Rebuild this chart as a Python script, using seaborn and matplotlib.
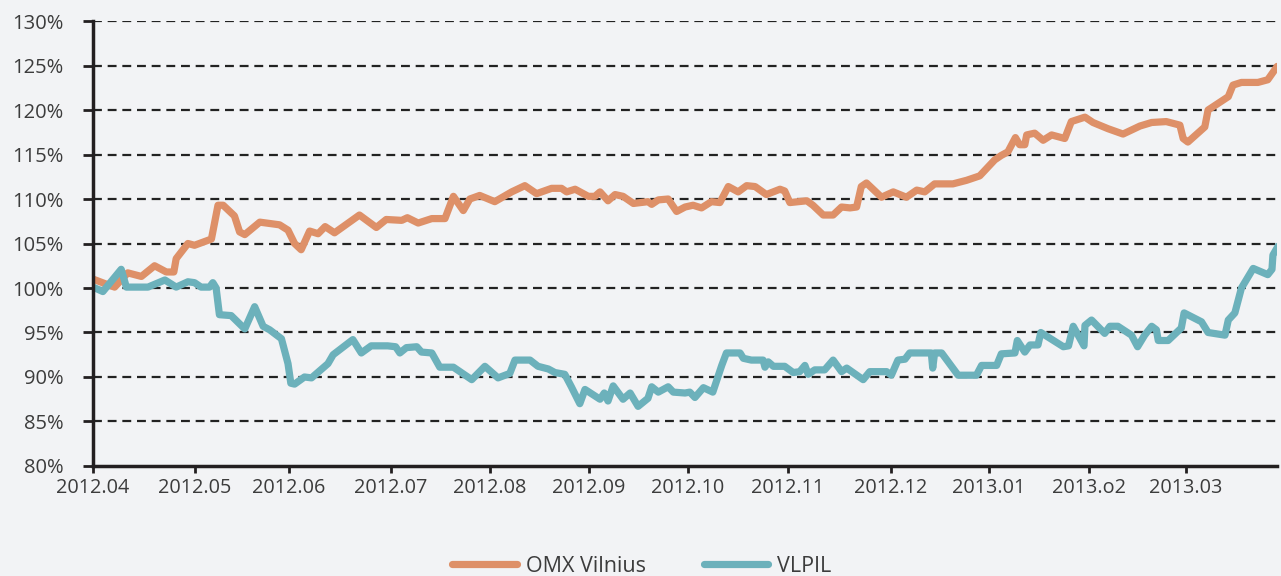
import pandas as pd
import seaborn as sns
import matplotlib.pyplot as plt
from matplotlib.ticker import FuncFormatter

# trading-day index and index level in %
omx_day = [0, 2.5, 4.6, 7.4, 10.3, 13.1, 15.6, 17.2, 17.7, 20.2, 21.6, 25.2, 26.6, 27.7,
           30.1, 31.2, 32.3, 35.5, 39.7, 41.5, 42.9, 44.3, 46.1, 47.9, 49.4, 51.4, 56.7,
           60.3, 62.4, 65.7, 66.9, 69.2, 72.1, 74.9, 76.7, 78.8, 80.2, 82.3, 85.5, 89.1,
           91.9, 94.4, 97.6, 99.7, 100.8, 102.6, 105.4, 106.8, 107.9, 109.6, 111.1, 112.8,
           115.0, 118.1, 118.9, 120.3, 122.4, 124.2, 126.0, 127.7, 129.5, 131.6, 133.4,
           135.2, 137.3, 139.1, 140.9, 143.3, 146.2, 147.2, 148.3, 151.9, 153.2, 155.4,
           157.5, 159.3, 161.1, 162.5, 163.5, 164.6, 167.8, 170.3, 173.1, 175.3, 177.0,
           179.1, 183.0, 185.9, 188.7, 191.9, 193.3, 194.7, 196.3, 197.2, 198.3, 198.7,
           200.4, 202.2, 204.0, 206.8, 208.2, 211.1, 212.8, 216.0, 219.2, 222.8, 225.3,
           228.4, 231.3, 232.0, 233.0, 236.6, 237.3, 241.6, 242.6, 244.4, 247.9, 250.0, 252.0]
omx_val = [101.0, 100.5, 100.1, 101.7, 101.3, 102.5, 101.8, 101.8, 103.3, 105.0, 104.8, 105.5,
           109.3, 109.3, 108.1, 106.3, 106.0, 107.4, 107.1, 106.5, 105.0, 104.3, 106.4, 106.1,
           106.9, 106.2, 108.2, 106.8, 107.7, 107.6, 107.9, 107.3, 107.8, 107.8, 110.3, 108.7,
           110.0, 110.4, 109.7, 110.8, 111.5, 110.6, 111.2, 111.2, 110.8, 111.1, 110.3, 110.3,
           110.8, 109.8, 110.5, 110.3, 109.5, 109.7, 109.4, 109.9, 110.0, 108.6, 109.1, 109.3,
           109.0, 109.7, 109.6, 111.4, 110.8, 111.5, 111.4, 110.5, 111.1, 110.9, 109.6, 109.8,
           109.3, 108.2, 108.2, 109.1, 109.0, 109.1, 111.4, 111.8, 110.2, 110.8, 110.2, 111.0,
           110.8, 111.7, 111.7, 112.1, 112.6, 114.4, 114.9, 115.3, 116.9, 116.1, 116.1, 117.2,
           117.4, 116.6, 117.2, 116.8, 118.7, 119.2, 118.6, 117.9, 117.3, 118.2, 118.6, 118.7,
           118.3, 116.8, 116.4, 118.1, 120.0, 121.5, 122.8, 123.1, 123.1, 123.4, 124.9]

vlpil_day = [0, 2.1, 6.0, 7.1, 11.7, 15.3, 17.7, 20.2, 21.6, 23.0, 24.8, 25.5, 26.2, 26.9,
             29.4, 32.3, 34.4, 36.2, 37.6, 40.1, 41.5, 42.1, 42.9, 45.0, 46.5, 50.0, 51.1,
             55.3, 57.1, 59.2, 62.7, 64.4, 65.3, 66.7, 68.9, 69.9, 72.1, 73.8, 76.7, 80.6,
             83.4, 86.2, 88.7, 89.8, 93.0, 94.7, 96.9, 98.3, 100.4, 101.8, 103.6, 104.7,
             107.9, 108.8, 109.6, 110.7, 112.8, 114.3, 116.0, 118.1, 118.9, 120.3, 122.4,
             123.5, 126.0, 127.0, 128.1, 129.9, 131.9, 133.8, 134.8, 137.7, 138.4, 140.1,
             142.6, 143.0, 143.7, 144.8, 147.2, 149.0, 150.4, 151.5, 152.2, 153.6, 155.7,
             157.5, 159.3, 160.4, 163.9, 165.3, 168.9, 169.9, 171.3, 172.8, 173.8, 178.4,
             178.7, 179.1, 180.6, 184.1, 188.0, 189.1, 192.3, 193.3, 196.2, 196.7, 198.3,
             199.4, 201.1, 201.7, 204.7, 206.5, 207.6, 208.6, 210.9, 211.1, 212.5, 215.3,
             216.4, 218.1, 221.0, 222.3, 223.8, 225.3, 226.3, 226.7, 228.8, 231.6, 232.2,
             235.9, 237.3, 240.9, 241.6, 243.0, 244.4, 246.9, 250.0, 250.9, 251.1, 252.2]
vlpil_val = [100.1, 99.6, 102.1, 100.1, 100.1, 100.9, 100.1, 100.7, 100.6, 100.1, 100.1, 100.6,
             100.0, 97.0, 96.9, 95.4, 97.9, 95.7, 95.3, 94.3, 91.5, 89.3, 89.2, 90.0, 89.9,
             91.5, 92.5, 94.2, 92.7, 93.5, 93.5, 93.4, 92.7, 93.3, 93.4, 92.8, 92.7, 91.1,
             91.1, 89.7, 91.2, 89.9, 90.4, 91.9, 91.9, 91.2, 90.9, 90.5, 90.3, 88.9, 87.0,
             88.6, 87.5, 88.2, 87.3, 89.0, 87.5, 88.2, 86.7, 87.6, 88.9, 88.3, 88.9, 88.3,
             88.2, 88.3, 87.7, 88.8, 88.3, 91.3, 92.7, 92.7, 92.1, 91.9, 91.9, 91.1, 91.7,
             91.2, 91.2, 90.5, 90.6, 91.3, 90.3, 90.8, 90.8, 91.9, 90.6, 91.0, 89.7, 90.6,
             90.6, 90.2, 91.9, 92.0, 92.7, 92.7, 91.0, 92.7, 92.7, 90.2, 90.2, 91.3, 91.3,
             92.6, 92.7, 94.1, 92.8, 93.6, 93.6, 95.0, 94.0, 93.4, 93.5, 95.7, 93.5, 95.8,
             96.4, 94.9, 95.7, 95.7, 94.7, 93.4, 94.7, 95.7, 95.3, 94.1, 94.1, 95.5, 97.2,
             96.2, 95.0, 94.7, 96.4, 97.2, 100.0, 102.2, 101.5, 102.1, 103.7, 104.7]

month_pos = [0, 21.7, 41.7, 63.4, 84.5, 105.5, 126.6, 147.9, 169.8, 190.6, 211.9, 232.6]
month_labels = ["2012.04", "2012.05", "2012.06", "2012.07", "2012.08", "2012.09",
                "2012.10", "2012.11", "2012.12", "2013.01", "2013.o2", "2013.03"]

series = ["OMX Vilnius", "VLPIL"]
colors = ["#de9068", "#6cb1bb"]

df = pd.concat([
    pd.DataFrame({"day": omx_day, "value": omx_val, "series": series[0]}),
    pd.DataFrame({"day": vlpil_day, "value": vlpil_val, "series": series[1]}),
])

bg = "#f2f3f5"
ink = "#3c3c3c"
sns.set_style("ticks")
plt.rcParams["font.family"] = ["Open Sans", "DejaVu Sans"]

fig = plt.figure(figsize=(12.81, 5.76), dpi=100, facecolor=bg)
ax = fig.add_axes([0.0726, 0.191, 0.9244, 0.7725])
ax.set_facecolor(bg)

sns.lineplot(data=df, x="day", y="value", hue="series", palette=colors,
             sort=False, estimator=None, linewidth=5.2, ax=ax, legend=False,
             zorder=3)

ax.set_xlim(0, 252)
ax.set_ylim(80, 130)
ax.set_yticks(range(80, 131, 5))
ax.yaxis.set_major_formatter(FuncFormatter(lambda v, p: f"{v:.0f}%"))
ax.set_xticks(month_pos)
ax.set_xticklabels(month_labels)
ax.set_xlabel("")
ax.set_ylabel("")

# dashed horizontal guides
for v in range(85, 131, 5):
    ax.axhline(v, color="#222222", lw=1.6, ls=(0, (4, 2.6)), zorder=1)

for side in ["top", "right"]:
    ax.spines[side].set_visible(False)
for side in ["left", "bottom"]:
    ax.spines[side].set_color("#231f20")
    ax.spines[side].set_linewidth(2.5)
    ax.spines[side].set_zorder(4)

ax.tick_params(axis="y", length=7, width=2, color="#231f20", pad=14,
               labelsize=14.5, labelcolor=ink)
ax.tick_params(axis="x", length=5, width=2, color="#231f20", pad=4,
               labelsize=14.3, labelcolor=ink)

handles = [plt.Line2D([], [], color=c, lw=5.2) for c in colors]
fig.legend(handles, series, loc="center", bbox_to_anchor=(0.501, 0.017), ncol=2,
           frameon=False, fontsize=15.5, labelcolor=ink, handlelength=3.0,
           handletextpad=0.4, columnspacing=2.7)

fig.savefig("out.png", dpi=100, facecolor=bg)
